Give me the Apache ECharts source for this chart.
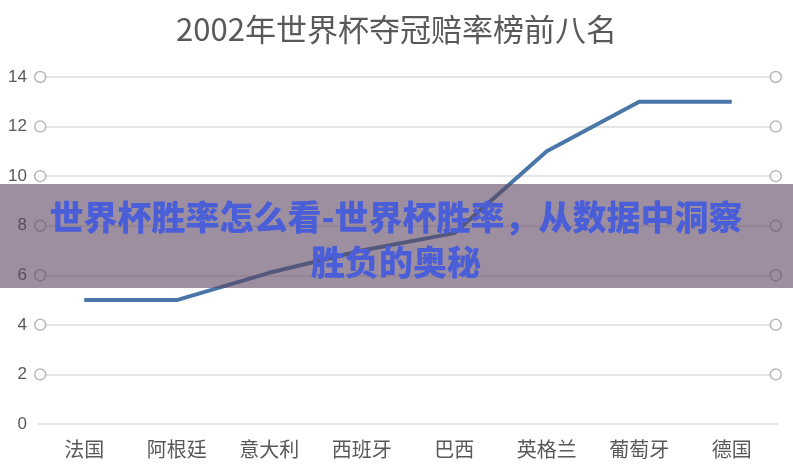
<!DOCTYPE html>
<html>
<head>
<meta charset="utf-8">
<script src="https://cdn.jsdelivr.net/npm/echarts@6/dist/echarts.min.js"></script>
<style>
html,body{margin:0;padding:0;background:#fff;}
#chart{width:793px;height:473px;}
</style>
</head>
<body>
<div id="chart"></div>
<script>
const titleText = '2002年世界杯夺冠赔率榜前八名';
const categories = ['法国', '阿根廷', '意大利', '西班牙', '巴西', '英格兰', '葡萄牙', '德国'];
const oddsValues = [5, 5, 6.1, 7.0, 7.7, 11, 13, 13];
const yTicks = [2, 4, 6, 8, 10, 12, 14];
const bannerLine1 = '世界杯胜率怎么看-世界杯胜率，从数据中洞察';
const bannerLine2 = '胜负的奥秘';

const circleData = [];
yTicks.forEach(v => { circleData.push([0, v]); circleData.push([1, v]); });

const chart = echarts.init(document.getElementById('chart'), null, {renderer: 'canvas'});
const cjk = '"Noto Sans CJK SC", "Noto Sans", sans-serif';
chart.setOption({
  animation: false,
  backgroundColor: '#ffffff',
  textStyle: {fontFamily: cjk},
  title: {
    text: titleText,
    left: 'center',
    top: 9,
    textStyle: {fontSize: 31, fontWeight: 'normal', color: '#595959', fontFamily: cjk}
  },
  grid: {left: 38, right: 15, top: 77, bottom: 49, containLabel: false},
  xAxis: [{
    type: 'category',
    data: categories,
    boundaryGap: true,
    axisLine: {show: false},
    axisTick: {show: false},
    axisLabel: {fontSize: 20, color: '#595959', margin: 15, fontFamily: cjk}
  }, {
    type: 'value',
    min: -0.003,
    max: 1.003,
    show: false
  }],
  yAxis: {
    type: 'value',
    min: 0,
    max: 14,
    interval: 2,
    axisLine: {show: false},
    axisTick: {show: false},
    axisLabel: {fontSize: 17, color: '#595959', margin: 11, fontFamily: '"Liberation Sans", sans-serif'},
    splitLine: {lineStyle: {color: '#dcdcdc', width: 1.5}}
  },
  series: [{
    type: 'line',
    data: oddsValues,
    xAxisIndex: 0,
    showSymbol: false,
    symbol: 'none',
    lineStyle: {color: '#4a76a8', width: 4},
    z: 3
  }, {
    type: 'scatter',
    xAxisIndex: 1,
    data: circleData,
    symbol: 'circle',
    symbolSize: 11,
    itemStyle: {color: '#ffffff', borderColor: '#a6a6a6', borderWidth: 1.5},
    z: 4,
    silent: true
  }],
  graphic: [{
    type: 'rect',
    shape: {x: 0, y: 184, width: 793, height: 104},
    style: {fill: 'rgba(93,68,97,0.6)'},
    z: 100
  }, {
    type: 'text',
    x: 396,
    y: 217,
    style: {
      text: bannerLine1,
      fill: '#4a5ed8',
      font: '900 34px "Noto Sans CJK SC", sans-serif',
      textAlign: 'center',
      textVerticalAlign: 'middle'
    },
    z: 101
  }, {
    type: 'text',
    x: 396,
    y: 262,
    style: {
      text: bannerLine2,
      fill: '#4a5ed8',
      font: '900 34px "Noto Sans CJK SC", sans-serif',
      textAlign: 'center',
      textVerticalAlign: 'middle'
    },
    z: 101
  }]
});
</script>
</body>
</html>
